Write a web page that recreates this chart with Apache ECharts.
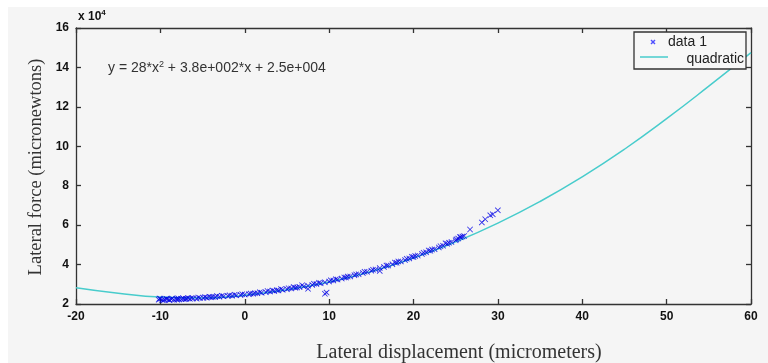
<!DOCTYPE html>
<html>
<head>
<meta charset="utf-8">
<script src="https://cdn.jsdelivr.net/npm/echarts@6/dist/echarts.min.js"></script>
<style>
html,body{margin:0;padding:0;background:#fff;}
#bg{position:absolute;left:8px;top:7px;width:760px;height:356px;background:#f5f5f5;}
#chart{position:absolute;left:0;top:0;width:768px;height:363px;}
</style>
</head>
<body>
<div id="bg"></div>
<div id="chart"></div>
<script>
// values in units of 1e4 micronewtons
const xTicks = [-20, -10, 0, 10, 20, 30, 40, 50, 60];
const yTicks = [2, 4, 6, 8, 10, 12, 14, 16];
const dataX = [-10.2,-10,-9.8,-9.5,-9.2,-9,-8.7,-8.4,-8.1,-7.8,-7.5,-7.2,-6.9,-6.5,-6.1,-5.7,-5.3,-4.9,-4.5,-4,-3.5,-3,-2.5,-2,-1.5,-1,-0.5,0,0.5,1,1.5,2,2.5,3,3.5,4,4.5,5,5.5,6,6.5,7,7.5,7.5,8,8.5,9,9.5,9.7,9.5,10,10.5,11,11.5,12,12.5,13,13.5,14,14.5,15,15.5,16,16,16.5,17,17.5,18,18.5,19,19.5,20,20.5,21,21.5,22,22.5,23,23.5,24,24.5,25,25.3,25.6,25.8,26,26.7,28.1,28.5,29.1,29.4,30,
  -9.6,-8.9,-8,-7,-3.8,1.2,3.8,6.2,11.8,13.2,17.8,19.8,21.8,23.8,
  -10.1,-9.3,-8.6,-7.9,-7.3,-6.7,-6.3,-5.5,-4.7,-4.2,-3.3,-2.7,-1.8,-1.2,-0.3,0.7,1.8,2.7,3.3,4.3,5.2,5.8,6.8,8.2,8.8,10.2,10.8,12.2,14.2,15.2,16.8,18.2,19.2,20.2,21.2,22.2,23.2,24.2,25.1,25.5];
const dataY = [2.22,2.26,2.2,2.23,2.25,2.21,2.24,2.22,2.26,2.23,2.25,2.24,2.27,2.26,2.28,2.27,2.3,2.31,2.32,2.34,2.35,2.37,2.39,2.41,2.42,2.44,2.46,2.48,2.5,2.52,2.55,2.57,2.6,2.63,2.66,2.69,2.72,2.75,2.79,2.82,2.86,2.89,2.77,2.93,2.97,3.01,3.05,2.52,2.58,3.1,3.14,3.19,3.24,3.29,3.34,3.4,3.46,3.51,3.57,3.63,3.69,3.75,3.68,3.82,3.88,3.95,4.02,4.09,4.16,4.23,4.31,4.38,4.46,4.54,4.62,4.7,4.78,4.87,4.96,5.05,5.14,5.23,5.32,5.38,5.42,5.45,5.78,6.14,6.3,6.5,6.55,6.75,
  2.19,2.2,2.21,2.25,2.36,2.55,2.7,2.84,3.35,3.5,4.1,4.4,4.72,5.08,
  2.28,2.27,2.28,2.29,2.29,2.3,2.31,2.33,2.35,2.37,2.4,2.42,2.44,2.47,2.5,2.53,2.6,2.66,2.69,2.76,2.8,2.86,2.95,3.03,3.08,3.2,3.26,3.39,3.63,3.74,3.95,4.16,4.29,4.44,4.6,4.76,4.93,5.11,5.28,5.4];
const fitX = [-20,-15,-10,-5,0,5,10,15,20,25,30,35,40,45,50,55,60];
const fitY = [2.83,2.55,2.35,2.3,2.45,2.72,3.12,3.65,4.33,5.15,6.1,7.2,8.45,9.85,11.4,13.05,14.75];

const chart = echarts.init(document.getElementById('chart'), null, {renderer:'canvas'});
const lbl = {color:'#111', fontFamily:'Arial, Liberation Sans', fontWeight:'bold', fontSize:12};
const axLine = {onZero:false, lineStyle:{color:'#333', width:1.3}};
const tick = {inside:true, length:5, lineStyle:{color:'#333', width:1.3}};
const xMin = xTicks[0], xMax = xTicks[xTicks.length-1];
const yMin = yTicks[0], yMax = yTicks[yTicks.length-1];
const xMark = 'path://M0,1L1,0L5,4L9,0L10,1L6,5L10,9L9,10L5,6L1,10L0,9L4,5Z';
const lf = 'Arial, Liberation Sans';

chart.setOption({
  animation:false,
  backgroundColor:'transparent',
  grid:{left:76, right:17, top:28, bottom:59},
  xAxis:[
    {type:'value', min:xMin, max:xMax, interval:10, axisLine:axLine, axisTick:tick,
     axisLabel:Object.assign({margin:7}, lbl), splitLine:{show:false}},
    {type:'value', position:'top', min:xMin, max:xMax, interval:10, axisLine:axLine, axisTick:tick,
     axisLabel:{show:false}, splitLine:{show:false}}
  ],
  yAxis:[
    {type:'value', min:yMin, max:yMax, interval:2, axisLine:axLine, axisTick:tick,
     axisLabel:Object.assign({margin:7}, lbl), splitLine:{show:false}},
    {type:'value', position:'right', min:yMin, max:yMax, interval:2, axisLine:axLine, axisTick:tick,
     axisLabel:{show:false}, splitLine:{show:false}}
  ],
  series:[
    {name:'quadratic', type:'line', smooth:0.5, showSymbol:false, symbol:'none',
     lineStyle:{color:'#48cccc', width:1.5}, itemStyle:{color:'#48cccc'},
     data:fitX.map((x,i)=>[x, fitY[i]]), z:2},
    {name:'data 1', type:'scatter', symbol:xMark, symbolSize:6,
     itemStyle:{color:'#0000e6'},
     data:dataX.map((x,i)=>[x, dataY[i]]), z:3}
  ],
  graphic:[
    {type:'text', left:78, top:9, style:{
      text:'{b|x 10}{s|4}', rich:{
        b:{fontFamily:lf, fontWeight:'bold', fontSize:12, fill:'#111'},
        s:{fontFamily:lf, fontWeight:'bold', fontSize:8, fill:'#111', verticalAlign:'top', padding:[0,0,7,0]}
      }}},
    {type:'text', left:108, top:60, style:{
      text:'{a|y = 28*x}{s|2}{a| + 3.8e+002*x + 2.5e+004}', rich:{
        a:{fontFamily:lf, fontSize:14, fill:'#333'},
        s:{fontFamily:lf, fontSize:9, fill:'#333', padding:[0,0,8,0]}
      }}},
    {type:'text', x:459, y:353, style:{
      text:'Lateral displacement (micrometers)', align:'center', verticalAlign:'middle',
      fontFamily:'Liberation Serif, Times New Roman, serif', fontSize:20, fill:'#333'}},
    {type:'text', x:36, y:167, rotation:Math.PI/2, style:{
      text:'Lateral force (micronewtons)', align:'center', verticalAlign:'middle',
      fontFamily:'Liberation Serif, Times New Roman, serif', fontSize:18.5, fill:'#333'}},
    // legend box
    {type:'rect', shape:{x:634, y:32, width:112, height:37}, z:10,
     style:{fill:'#f7f7f7', stroke:'#333', lineWidth:1.3}},
    {type:'line', z:11, shape:{x1:651, y1:40, x2:655, y2:44}, style:{stroke:'#5050ff', lineWidth:1.5}},
    {type:'line', z:11, shape:{x1:655, y1:40, x2:651, y2:44}, style:{stroke:'#5050ff', lineWidth:1.5}},
    {type:'text', z:11, x:668, y:42, style:{text:'data 1', align:'left', verticalAlign:'middle',
     fontFamily:lf, fontSize:14, fill:'#222'}},
    {type:'line', z:11, shape:{x1:640, y1:57, x2:668, y2:57}, style:{stroke:'#48cccc', lineWidth:1.5}},
    {type:'text', z:11, x:744, y:59, style:{text:'quadratic', align:'right', verticalAlign:'middle',
     fontFamily:lf, fontSize:14, fill:'#222'}}
  ]
});
</script>
</body>
</html>
